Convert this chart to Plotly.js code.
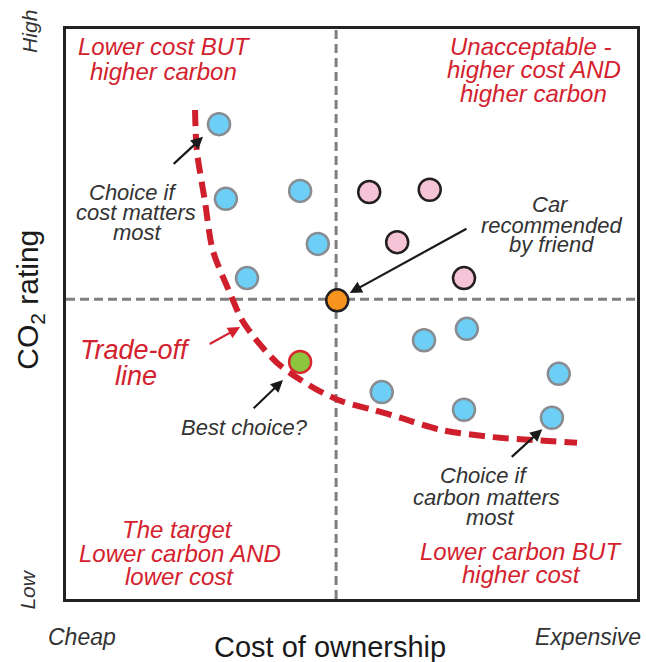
<!DOCTYPE html>
<html>
<head>
<meta charset="utf-8">
<script src="https://cdn.plot.ly/plotly-3.0.1.min.js"></script>
<style>html,body{margin:0;padding:0;background:#fff;}#chart{width:646px;height:662px;}</style>
</head>
<body>
<div id="chart"></div>
<script>
// ---- data (cost of ownership 0-100, CO2 rating 0-100) ----
const blueCost = [26.8, 28.0, 41.0, 44.1, 31.7, 62.7, 70.2, 55.3, 69.7, 86.3, 85.1];
const blueCO2  = [83.3, 70.2, 71.6, 62.3, 56.3, 45.4, 47.4, 36.3, 33.2, 39.5, 31.8];
const pinkCost = [53.1, 63.7, 58.0, 69.7];
const pinkCO2  = [71.4, 71.8, 62.6, 56.3];
const friendCost = [47.5];
const friendCO2  = [52.4];
const bestCost = [41.0];
const bestCO2  = [41.6];
const tradeCost = [22.6, 22.9, 24.3, 25.7, 28.7, 30.8, 33.6, 37.0, 40.5, 44.0, 48.5, 53.8, 58.5, 66.0, 74.8, 81.8, 89.5];
const tradeCO2  = [85.8, 78.8, 70.0, 61.2, 53.7, 49.0, 45.1, 41.4, 38.8, 36.7, 34.6, 33.2, 31.8, 29.6, 28.4, 27.9, 27.4];
const midCost = 47.3;
const midCO2 = 52.6;

// quadrant labels: [text, x, y]
const quadLabels = [
  ["Lower cost BUT", 17.2, 96.9], ["higher carbon", 17.0, 92.5],
  ["Unacceptable -", 81.4, 96.9], ["higher cost AND", 82.0, 92.9], ["higher carbon", 81.8, 88.7],
  ["The target", 19.6, 12.2], ["Lower carbon AND", 20.0, 8.0], ["lower cost", 19.8, 3.9],
  ["Lower carbon BUT", 79.7, 8.3], ["higher cost", 79.7, 4.3]
];
const noteLabels = [
  ["Choice if", 11.7, 71.4], ["cost matters", 12.3, 67.8], ["most", 12.6, 64.3],
  ["Car", 84.9, 69.2], ["recommended", 85.1, 65.6], ["by friend", 85.1, 62.2],
  ["Best choice?", 31.2, 30.1],
  ["Choice if", 73.2, 21.7], ["carbon matters", 73.7, 17.8], ["most", 74.4, 14.3]
];
const tradeLabels = [["Trade-off", 12.1, 43.6], ["line", 12.3, 39.2]];
// arrows: [headX, headY, tailX, tailY, colour]
const arrows = [
  [24.0, 81.1, 18.6, 76.1, "#1a1a1a"],
  [49.7, 53.7, 70.4, 65.1, "#1a1a1a"],
  [38.0, 38.4, 32.6, 33.2, "#1a1a1a"],
  [83.4, 29.8, 77.8, 24.7, "#1a1a1a"],
  [30.5, 47.7, 24.9, 44.6, "#d3222e"]
];

const RED = "#d3222e";
const GRAY = "#333333";
const FONT = "Liberation Sans, Arial, sans-serif";

const traces = [
  {x: tradeCost, y: tradeCO2, mode: "lines", type: "scatter",
   line: {color: "#cf1f2d", width: 6, dash: "16px,8px", shape: "spline", smoothing: 0.8}, hoverinfo: "skip"},
  {x: blueCost, y: blueCO2, mode: "markers", type: "scatter",
   marker: {size: 22, color: "#6dcff6", line: {color: "#878d92", width: 2.5}}, hoverinfo: "skip"},
  {x: pinkCost, y: pinkCO2, mode: "markers", type: "scatter",
   marker: {size: 22, color: "#f6c4d7", line: {color: "#231f20", width: 2.5}}, hoverinfo: "skip"},
  {x: friendCost, y: friendCO2, mode: "markers", type: "scatter",
   marker: {size: 22, color: "#f7941d", line: {color: "#231f20", width: 2.5}}, hoverinfo: "skip"},
  {x: bestCost, y: bestCO2, mode: "markers", type: "scatter",
   marker: {size: 22, color: "#8cc63f", line: {color: "#d7282f", width: 2.5}}, hoverinfo: "skip"}
];

const ann = [];
quadLabels.forEach(l => ann.push({x: l[1], y: l[2], xref: "x", yref: "y", text: "<i>" + l[0] + "</i>",
  showarrow: false, xanchor: "center", yanchor: "middle", font: {family: FONT, size: 24, color: RED}}));
noteLabels.forEach(l => ann.push({x: l[1], y: l[2], xref: "x", yref: "y", text: "<i>" + l[0] + "</i>",
  showarrow: false, xanchor: "center", yanchor: "middle", font: {family: FONT, size: 22, color: GRAY}}));
tradeLabels.forEach(l => ann.push({x: l[1], y: l[2], xref: "x", yref: "y", text: "<i>" + l[0] + "</i>",
  showarrow: false, xanchor: "center", yanchor: "middle", font: {family: FONT, size: 27, color: RED}}));
arrows.forEach(a => ann.push({x: a[0], y: a[1], ax: a[2], ay: a[3], xref: "x", yref: "y", axref: "x", ayref: "y",
  text: "", showarrow: true, arrowhead: 2, arrowsize: 1.1, arrowwidth: 2.2, arrowcolor: a[4], standoff: 0, startstandoff: 0}));
// outer labels
ann.push({xref: "paper", yref: "paper", x: -0.063, y: 0.995, text: "<i>High</i>", textangle: -90, showarrow: false,
  xanchor: "center", yanchor: "middle", font: {family: FONT, size: 21, color: GRAY}});
ann.push({xref: "paper", yref: "paper", x: -0.067, y: 0.016, text: "<i>Low</i>", textangle: -90, showarrow: false,
  xanchor: "center", yanchor: "middle", font: {family: FONT, size: 21, color: GRAY}});
ann.push({xref: "paper", yref: "paper", x: -0.063, y: 0.525, text: "CO<sub>2</sub> rating", textangle: -90, showarrow: false,
  xanchor: "center", yanchor: "middle", font: {family: FONT, size: 30, color: "#1a1a1a"}});
ann.push({xref: "paper", yref: "paper", x: 0.028, y: -0.067, text: "<i>Cheap</i>", showarrow: false,
  xanchor: "center", yanchor: "middle", font: {family: FONT, size: 23, color: GRAY}});
ann.push({xref: "paper", yref: "paper", x: 0.914, y: -0.067, text: "<i>Expensive</i>", showarrow: false,
  xanchor: "center", yanchor: "middle", font: {family: FONT, size: 23, color: GRAY}});
ann.push({xref: "paper", yref: "paper", x: 0.462, y: -0.084, text: "Cost of ownership", showarrow: false,
  xanchor: "center", yanchor: "middle", font: {family: FONT, size: 29, color: "#1a1a1a"}});

const layout = {
  width: 646, height: 662,
  margin: {l: 66, r: 9, t: 29, b: 63, pad: 0},
  paper_bgcolor: "#ffffff", plot_bgcolor: "#ffffff",
  showlegend: false,
  xaxis: {range: [0, 100], showgrid: false, zeroline: false, showticklabels: false, ticks: "",
          showline: true, mirror: true, linecolor: "#222222", linewidth: 3, fixedrange: true},
  yaxis: {range: [0, 100], showgrid: false, zeroline: false, showticklabels: false, ticks: "",
          showline: true, mirror: true, linecolor: "#222222", linewidth: 3, fixedrange: true},
  shapes: [
    {type: "line", xref: "x", yref: "y", x0: midCost, x1: midCost, y0: 0, y1: 100,
     line: {color: "#7f7f7f", width: 3, dash: "9px,5px"}, layer: "below"},
    {type: "line", xref: "x", yref: "y", x0: 0, x1: 100, y0: midCO2, y1: midCO2,
     line: {color: "#7f7f7f", width: 3, dash: "9px,5px"}, layer: "below"}
  ],
  annotations: ann
};

Plotly.newPlot("chart", traces, layout, {displayModeBar: false, staticPlot: true});
</script>
</body>
</html>
